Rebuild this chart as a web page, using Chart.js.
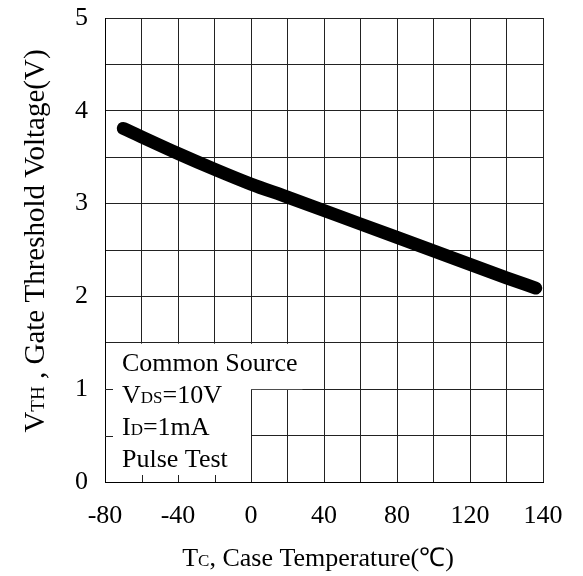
<!DOCTYPE html>
<html>
<head>
<meta charset="utf-8">
<script src="https://cdn.jsdelivr.net/npm/chart.js"></script>
<style>
  body { margin: 0; background: #fff; }
  #wrap { width: 583px; height: 576px; }
</style>
</head>
<body>
<div id="wrap"><canvas id="vthChart"></canvas></div>
<script>
  // case temperature (grid position, 20 per division) and threshold voltage
  const temps = [-70, -40, -20, 0, 20, 60, 100, 140, 156];
  const vth = [3.81, 3.54, 3.37, 3.21, 3.07, 2.78, 2.49, 2.20, 2.09];

  // printed labels under the x grid lines
  const xTickLabels = ['-80', '', '-40', '', '0', '', '40', '', '80', '', '120', '', '140'];
  const yTickLabels = ['0', '', '1', '', '2', '', '3', '', '4', '', '5'];

  // test conditions box, [main, subscript, rest]
  const noteLines = [
    ['Common Source', '', ''],
    ['V', 'DS', '=10V'],
    ['I', 'D', '=1mA'],
    ['Pulse Test', '', '']
  ];
  const xTitle = ['T', 'C', ', Case Temperature(℃)'];
  const yTitle = ['V', 'TH', ' , Gate Threshold Voltage(V)'];

  const FONT = "'Liberation Serif', 'Times New Roman', serif";
  const BIG = 26;
  const SMALL = 17;

  // width of "main" + small subscript + "rest"
  function richWidth(ctx, parts, big, small) {
    let w = 0;
    ctx.font = big + 'px ' + FONT;
    w += ctx.measureText(parts[0]).width + ctx.measureText(parts[2]).width;
    ctx.font = small + 'px ' + FONT;
    w += ctx.measureText(parts[1]).width;
    return w;
  }
  function drawRich(ctx, parts, x, y, big, small) {
    ctx.textBaseline = 'alphabetic';
    ctx.textAlign = 'left';
    ctx.font = big + 'px ' + FONT;
    ctx.fillText(parts[0], x, y);
    x += ctx.measureText(parts[0]).width;
    ctx.font = small + 'px ' + FONT;
    ctx.fillText(parts[1], x, y);
    x += ctx.measureText(parts[1]).width;
    ctx.font = big + 'px ' + FONT;
    ctx.fillText(parts[2], x, y);
  }

  // white conditions box in the lower left, drawn over the grid
  const noteBox = {
    id: 'noteBox',
    beforeDatasetsDraw(chart) {
      const ctx = chart.ctx;
      const xs = chart.scales.x, ys = chart.scales.y;
      const left = xs.getPixelForValue(-80);
      const right = xs.getPixelForValue(0);
      const top = ys.getPixelForValue(1.5);
      const mid = ys.getPixelForValue(1);
      const bottom = ys.getPixelForValue(0);
      const textX = left + 17;
      ctx.save();
      ctx.font = BIG + 'px ' + FONT;
      const firstW = ctx.measureText(noteLines[0][0]).width;
      ctx.fillStyle = '#fff';
      ctx.fillRect(left + 1, top + 1, right - left - 1, bottom - top - 1);
      ctx.fillRect(left + 1, top + 1, textX + firstW + 4 - left, mid - top - 1);

      // short inward ticks left on the frame
      ctx.strokeStyle = '#222';
      ctx.lineWidth = 1;
      ctx.beginPath();
      [1, 0.5].forEach(v => {
        const py = Math.round(ys.getPixelForValue(v)) + 0.5;
        ctx.moveTo(left, py);
        ctx.lineTo(left + 8, py);
      });
      [-60, -40, -20].forEach(v => {
        const px = Math.round(xs.getPixelForValue(v)) + 0.5;
        ctx.moveTo(px, bottom);
        ctx.lineTo(px, bottom - 7);
      });
      ctx.stroke();

      ctx.fillStyle = '#000';
      noteLines.forEach((parts, i) => {
        drawRich(ctx, parts, textX, top + 28 + i * 32, BIG, SMALL);
      });
      ctx.restore();
    }
  };

  // axis titles with subscripts
  const axisTitles = {
    id: 'axisTitles',
    afterDraw(chart) {
      const ctx = chart.ctx;
      const area = chart.chartArea;
      ctx.save();
      ctx.fillStyle = '#000';
      const cx = (area.left + area.right) / 2;
      const wx = richWidth(ctx, xTitle, BIG, SMALL);
      drawRich(ctx, xTitle, cx - wx / 2 - 6, 566, BIG, SMALL);

      const cy = (area.top + area.bottom) / 2 - 9;
      const wy = richWidth(ctx, yTitle, 29, 19);
      ctx.translate(44, cy);
      ctx.rotate(-Math.PI / 2);
      drawRich(ctx, yTitle, -wy / 2, 0, 29, 19);
      ctx.restore();
    }
  };

  const chart = new Chart(document.getElementById('vthChart'), {
    type: 'line',
    data: {
      datasets: [{
        data: temps.map((t, i) => ({ x: t, y: vth[i] })),
        borderColor: '#000',
        borderWidth: 13,
        borderCapStyle: 'round',
        borderJoinStyle: 'round',
        cubicInterpolationMode: 'monotone',
        pointRadius: 0,
        fill: false,
        clip: false
      }]
    },
    options: {
      responsive: true,
      maintainAspectRatio: false,
      animation: false,
      layout: { padding: { top: 18, right: 40, bottom: 0, left: 0 } },
      plugins: { legend: { display: false }, tooltip: { enabled: false } },
      scales: {
        x: {
          type: 'linear',
          min: -80,
          max: 160,
          afterFit(scale) { scale.height = 94; },
          border: { color: '#000', width: 1 },
          grid: { color: '#222', lineWidth: 1, drawTicks: false },
          ticks: {
            stepSize: 20,
            autoSkip: false,
            maxRotation: 0,
            padding: 19,
            color: '#000',
            font: { family: FONT, size: BIG },
            callback: (value, index) => xTickLabels[index]
          }
        },
        y: {
          min: 0,
          max: 5,
          afterFit(scale) {
            scale.width = 105;
            scale.paddingTop = 0;
            scale.paddingBottom = 0;
          },
          border: { color: '#000', width: 1 },
          grid: { color: '#222', lineWidth: 1, drawTicks: false },
          ticks: {
            stepSize: 0.5,
            autoSkip: false,
            padding: 17,
            color: '#000',
            font: { family: FONT, size: BIG },
            callback: (value, index) => yTickLabels[index]
          }
        }
      }
    },
    plugins: [noteBox, axisTitles]
  });
</script>
</body>
</html>
